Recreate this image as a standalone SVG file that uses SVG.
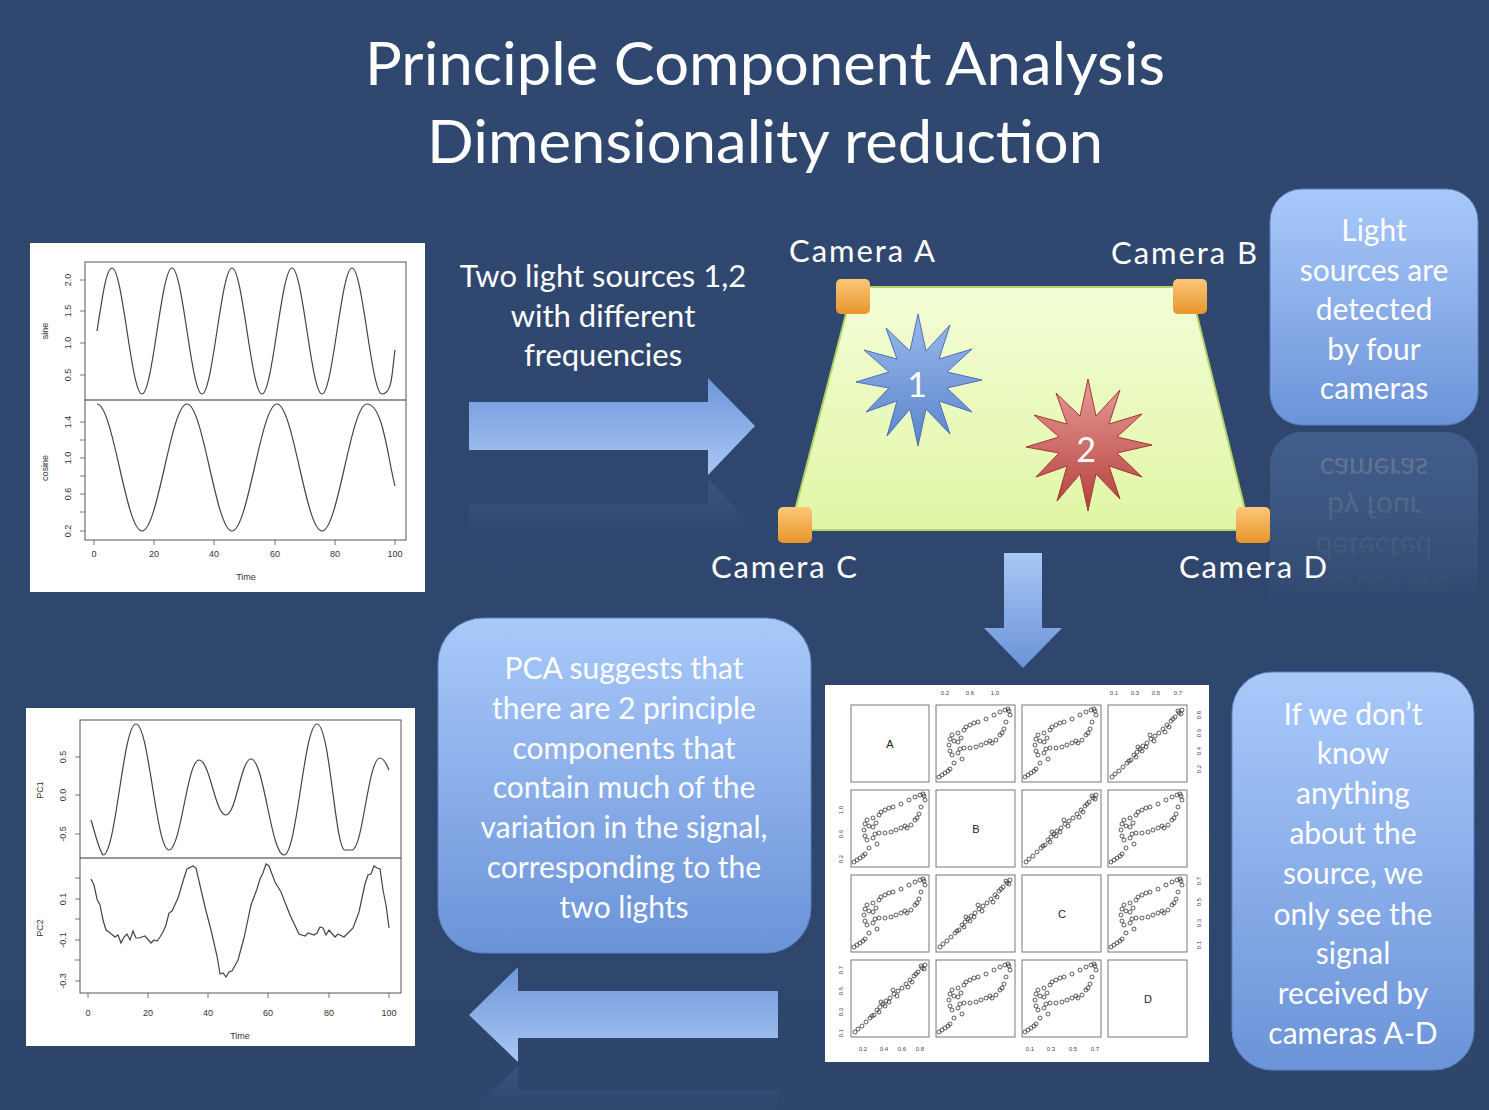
<svg xmlns="http://www.w3.org/2000/svg" xmlns:xlink="http://www.w3.org/1999/xlink" width="1489" height="1110" viewBox="0 0 1489 1110">
<defs>
<linearGradient id="bg" x1="0" y1="0" x2="0" y2="1"><stop offset="0" stop-color="#30486f"/><stop offset="1" stop-color="#2e466c"/></linearGradient>
<linearGradient id="box" x1="0" y1="0" x2="0" y2="1"><stop offset="0" stop-color="#a9c9fa"/><stop offset="1" stop-color="#6b93d8"/></linearGradient>
<linearGradient id="arrH" x1="0" y1="0" x2="0" y2="1"><stop offset="0" stop-color="#6e96da"/><stop offset="1" stop-color="#a9c7f4"/></linearGradient>
<linearGradient id="arrV" x1="0" y1="0" x2="0" y2="1"><stop offset="0" stop-color="#a9c7f4"/><stop offset="1" stop-color="#6b93d8"/></linearGradient>
<linearGradient id="trap" x1="0" y1="0" x2="0" y2="1"><stop offset="0" stop-color="#f3fdd6"/><stop offset="1" stop-color="#e1f6a6"/></linearGradient>
<linearGradient id="cam" x1="0" y1="0" x2="0" y2="1"><stop offset="0" stop-color="#fcc678"/><stop offset="1" stop-color="#e8952c"/></linearGradient>
<linearGradient id="blueS" x1="0" y1="0" x2="0" y2="1"><stop offset="0" stop-color="#9ab9ec"/><stop offset="1" stop-color="#5a84cc"/></linearGradient>
<linearGradient id="redS" x1="0" y1="0" x2="0" y2="1"><stop offset="0" stop-color="#e79a98"/><stop offset="1" stop-color="#b5403c"/></linearGradient>
<linearGradient id="fade" x1="0" y1="0" x2="0" y2="1"><stop offset="0" stop-color="#fff" stop-opacity="0.3"/><stop offset="1" stop-color="#fff" stop-opacity="0"/></linearGradient>
<mask id="m1" maskUnits="userSpaceOnUse" x="1260" y="428" width="230" height="180"><rect x="1260" y="428" width="230" height="180" fill="url(#fade)"/></mask>
<mask id="m2" maskUnits="userSpaceOnUse" x="460" y="476" width="300" height="60"><rect x="460" y="476" width="300" height="60" fill="url(#fade)"/></mask>
<mask id="m3" maskUnits="userSpaceOnUse" x="460" y="1064" width="330" height="46"><rect x="460" y="1064" width="330" height="46" fill="url(#fade)"/></mask>
<symbol id="loop" viewBox="0 0 78 77" width="78" height="77">
<g fill="none" stroke="#333" stroke-width="0.8">
<circle cx="3" cy="72" r="2"/><circle cx="6" cy="70" r="2"/><circle cx="9" cy="68" r="2"/><circle cx="14" cy="64" r="2"/><circle cx="18" cy="58" r="2"/><circle cx="16" cy="50" r="2"/><circle cx="14" cy="46" r="2"/><circle cx="13" cy="40" r="2"/><circle cx="14" cy="34" r="2"/><circle cx="16" cy="30" r="2"/><circle cx="18" cy="36" r="2"/><circle cx="22" cy="37" r="2"/><circle cx="25" cy="33" r="2"/><circle cx="22" cy="28" r="2"/><circle cx="28" cy="25" r="2"/><circle cx="34" cy="20" r="2"/><circle cx="42" cy="17" r="2"/><circle cx="50" cy="14" r="2"/><circle cx="58" cy="10" r="2"/><circle cx="64" cy="7" r="2"/><circle cx="69" cy="5" r="2"/><circle cx="73" cy="6" r="2"/><circle cx="74" cy="10" r="2"/><circle cx="70" cy="17" r="2"/><circle cx="68" cy="24" r="2"/><circle cx="64" cy="30" r="2"/><circle cx="60" cy="35" r="2"/><circle cx="56" cy="38" r="2"/><circle cx="50" cy="38" r="2"/><circle cx="45" cy="40" r="2"/><circle cx="40" cy="42" r="2"/><circle cx="34" cy="43" r="2"/><circle cx="28" cy="43" r="2"/><circle cx="24" cy="44" r="2"/><circle cx="22" cy="48" r="2"/><circle cx="26" cy="54" r="2"/><circle cx="12" cy="66" r="2"/><circle cx="72" cy="4" r="2"/><circle cx="66" cy="28" r="2"/><circle cx="30" cy="22" r="2"/><circle cx="54" cy="36" r="2"/><circle cx="38" cy="18" r="2"/>
</g></symbol>
<symbol id="lin" viewBox="0 0 78 77" width="78" height="77">
<g fill="none" stroke="#333" stroke-width="0.8">
<circle cx="4" cy="72" r="2"/><circle cx="7" cy="69" r="2"/><circle cx="11" cy="66" r="2"/><circle cx="15" cy="62" r="2"/><circle cx="19" cy="58" r="2"/><circle cx="23" cy="55" r="2"/><circle cx="26" cy="50" r="2"/><circle cx="29" cy="47" r="2"/><circle cx="32" cy="44" r="2"/><circle cx="35" cy="41" r="2"/><circle cx="39" cy="38" r="2"/><circle cx="43" cy="34" r="2"/><circle cx="47" cy="31" r="2"/><circle cx="51" cy="28" r="2"/><circle cx="55" cy="24" r="2"/><circle cx="59" cy="20" r="2"/><circle cx="63" cy="16" r="2"/><circle cx="67" cy="12" r="2"/><circle cx="71" cy="8" r="2"/><circle cx="74" cy="5" r="2"/><circle cx="70" cy="6" r="2"/><circle cx="30" cy="42" r="2"/><circle cx="34" cy="46" r="2"/><circle cx="38" cy="42" r="2"/><circle cx="46" cy="36" r="2"/><circle cx="57" cy="27" r="2"/><circle cx="65" cy="14" r="2"/><circle cx="28" cy="52" r="2"/><circle cx="21" cy="56" r="2"/><circle cx="42" cy="30" r="2"/><circle cx="73" cy="9" r="2"/><circle cx="61" cy="22" r="2"/>
</g></symbol>
</defs>
<style>
.t{font-family:Lato,"Open Sans",sans-serif;fill:#fff;text-anchor:middle}
.tt{font-size:60px}
.lbl{font-size:31px}
.bx{font-size:30px}
.ax{font-family:"Liberation Sans",Arial,sans-serif;font-size:9px;fill:#333;text-anchor:middle}
.sm{font-family:"Liberation Sans",Arial,sans-serif;font-size:6px;fill:#444;text-anchor:middle}
.frame{fill:none;stroke:#555;stroke-width:1}
.curve{fill:none;stroke:#444;stroke-width:1.2}
.panel{fill:none;stroke:#777;stroke-width:1}
.tick{stroke:#555;stroke-width:0.8}
</style>
<rect width="1489" height="1110" fill="url(#bg)"/>

<g id="title">
<text class="t tt" x="765" y="85" textLength="800" lengthAdjust="spacingAndGlyphs">Principle Component Analysis</text>
<text class="t tt" x="765" y="163" textLength="676" lengthAdjust="spacingAndGlyphs">Dimensionality reduction</text>
</g>

<g id="plot-sine">
<rect x="30" y="243" width="395" height="349" fill="#fff"/>
<rect x="85" y="262" width="321" height="278" class="frame"/>
<line x1="85" y1="400" x2="406" y2="400" stroke="#333" stroke-width="1.2"/>
<path class="curve" d="M97,331 C102,300 106,268 112,268 C122.8,268 131.2,394 142,394 S161.2,268 172,268 S191.2,394 202,394 S221.2,268 232,268 S251.2,394 262,394 S281.2,268 292,268 S311.2,394 322,394 S341.2,268 352,268 S371.2,394 382,394 S392,370 395,350"/>
<path class="curve" d="M97,404 C113.2,404 125.8,531 142,531 S170.8,404 187,404 S215.8,531 232,531 S260.8,404 277,404 S305.8,531 322,531 S350.8,404 367,404 S388,460 395,486"/>
<g class="tick"><line x1="80" y1="280" x2="85" y2="280"/><line x1="80" y1="311" x2="85" y2="311"/><line x1="80" y1="343" x2="85" y2="343"/><line x1="80" y1="375" x2="85" y2="375"/><line x1="80" y1="422" x2="85" y2="422"/><line x1="80" y1="440" x2="85" y2="440"/><line x1="80" y1="458" x2="85" y2="458"/><line x1="80" y1="476" x2="85" y2="476"/><line x1="80" y1="494" x2="85" y2="494"/><line x1="80" y1="512" x2="85" y2="512"/><line x1="80" y1="531" x2="85" y2="531"/>
<line x1="94" y1="540" x2="94" y2="545"/><line x1="154" y1="540" x2="154" y2="545"/><line x1="214" y1="540" x2="214" y2="545"/><line x1="275" y1="540" x2="275" y2="545"/><line x1="335" y1="540" x2="335" y2="545"/><line x1="395" y1="540" x2="395" y2="545"/></g>
<g class="ax">
<text transform="translate(71,280) rotate(-90)">2.0</text><text transform="translate(71,311) rotate(-90)">1.5</text><text transform="translate(71,343) rotate(-90)">1.0</text><text transform="translate(71,375) rotate(-90)">0.5</text>
<text transform="translate(71,422) rotate(-90)">1.4</text><text transform="translate(71,458) rotate(-90)">1.0</text><text transform="translate(71,494) rotate(-90)">0.6</text><text transform="translate(71,531) rotate(-90)">0.2</text>
<text transform="translate(48,331) rotate(-90)">sine</text><text transform="translate(48,468) rotate(-90)">cosine</text>
<text x="94" y="557">0</text><text x="154" y="557">20</text><text x="214" y="557">40</text><text x="275" y="557">60</text><text x="335" y="557">80</text><text x="395" y="557">100</text>
<text x="246" y="580">Time</text></g>
</g>

<g id="label-two-lights">
<text class="t lbl" x="603" y="287">Two light sources 1,2</text>
<text class="t lbl" x="603" y="327">with different</text>
<text class="t lbl" x="603" y="366">frequencies</text>
</g>

<g id="connectors">
<polygon points="469,402 708,402 708,378 755,426 708,475 708,450 469,450" fill="url(#arrH)"/>
<polygon points="469,552 708,552 708,576 755,528 708,479 708,504 469,504" fill="#6e96da" mask="url(#m2)" opacity="0.6"/>
<polygon points="1004,553 1042,553 1042,628 1062,628 1023,668 984,628 1004,628" fill="url(#arrV)"/>
<polygon points="778,991 518,991 518,967 469,1015 518,1062 518,1038 778,1038" fill="url(#arrH)"/>
<polygon points="778,1137 518,1137 518,1161 469,1113 518,1066 518,1090 778,1090" fill="#6e96da" mask="url(#m3)" opacity="0.6"/>
</g>

<g id="scene">
<polygon points="853,287 1190,287 1250,530 790,530" fill="url(#trap)" stroke="#b5d46a" stroke-width="2"/>
<polygon points="982,380 947,372 972,349 939,359 950,325 926,351 918,314 910,351 886,328 897,359 864,350 889,372 856,382 889,388 866,412 897,401 887,436 910,409 918,446 926,409 950,434 939,401 972,412 947,388" fill="url(#blueS)" stroke="#4a72b8" stroke-width="1"/>
<polygon points="982,380 947,372 972,349 939,359 950,325 926,351 918,314 910,351 886,328 897,359 864,350 889,372 856,382 889,388 866,412 897,401 887,436 910,409 918,446 926,409 950,434 939,401 972,412 947,388" transform="translate(170,65)" fill="url(#redS)" stroke="#a03a36" stroke-width="1"/>
<text class="t" x="917" y="397" font-size="34">1</text>
<text class="t" x="1086" y="462" font-size="34">2</text>
</g>
<g id="camera-a"><rect x="836" y="279" width="34" height="35" rx="5" fill="url(#cam)"/><text class="t lbl" x="862" y="262" textLength="146">Camera A</text></g>
<g id="camera-b"><rect x="1173" y="279" width="34" height="35" rx="5" fill="url(#cam)"/><text class="t lbl" x="1184" y="264" textLength="146">Camera B</text></g>
<g id="camera-c"><rect x="778" y="507" width="34" height="36" rx="5" fill="url(#cam)"/><text class="t lbl" x="784" y="578" textLength="146">Camera C</text></g>
<g id="camera-d"><rect x="1236" y="507" width="34" height="36" rx="5" fill="url(#cam)"/><text class="t lbl" x="1253" y="578" textLength="148">Camera D</text></g>

<g id="box-light">
<rect x="1270" y="189" width="208" height="236" rx="32" fill="url(#box)" stroke="#5a80c4" stroke-width="1"/>
<text class="t bx" x="1374" y="241">Light</text>
<text class="t bx" x="1374" y="281">sources are</text>
<text class="t bx" x="1374" y="320">detected</text>
<text class="t bx" x="1374" y="360">by four</text>
<text class="t bx" x="1374" y="399">cameras</text>
</g>
<g id="box-light-reflection" mask="url(#m1)">
<g transform="translate(0,857) scale(1,-1)">
<rect x="1270" y="189" width="208" height="236" rx="32" fill="url(#box)"/>
<text class="t bx" x="1374" y="281" fill="#c8d8f4">sources are</text>
<text class="t bx" x="1374" y="320" fill="#c8d8f4">detected</text>
<text class="t bx" x="1374" y="360" fill="#c8d8f4">by four</text>
<text class="t bx" x="1374" y="399" fill="#c8d8f4">cameras</text>
</g></g>

<g id="scatter-matrix">
<rect x="825" y="685" width="384" height="377" fill="#fff"/>
<g class="panel">
<rect x="851" y="705" width="78" height="77"/><rect x="936" y="705" width="79" height="77"/><rect x="1022" y="705" width="79" height="77"/><rect x="1108" y="705" width="79" height="77"/>
<rect x="851" y="790" width="78" height="77"/><rect x="936" y="790" width="79" height="77"/><rect x="1022" y="790" width="79" height="77"/><rect x="1108" y="790" width="79" height="77"/>
<rect x="851" y="875" width="78" height="77"/><rect x="936" y="875" width="79" height="77"/><rect x="1022" y="875" width="79" height="77"/><rect x="1108" y="875" width="79" height="77"/>
<rect x="851" y="960" width="78" height="77"/><rect x="936" y="960" width="79" height="77"/><rect x="1022" y="960" width="79" height="77"/><rect x="1108" y="960" width="79" height="77"/>
</g>
<use xlink:href="#loop" href="#loop" x="936" y="705"/><use xlink:href="#loop" href="#loop" x="1022" y="705"/><use xlink:href="#lin" href="#lin" x="1108" y="705"/>
<use xlink:href="#loop" href="#loop" x="851" y="790"/><use xlink:href="#lin" href="#lin" x="1022" y="790"/><use xlink:href="#loop" href="#loop" x="1108" y="790"/>
<use xlink:href="#loop" href="#loop" x="851" y="875"/><use xlink:href="#lin" href="#lin" x="936" y="875"/><use xlink:href="#loop" href="#loop" x="1108" y="875"/>
<use xlink:href="#lin" href="#lin" x="851" y="960"/><use xlink:href="#loop" href="#loop" x="936" y="960"/><use xlink:href="#loop" href="#loop" x="1022" y="960"/>
<g font-family="Liberation Sans,Arial,sans-serif" font-size="11" fill="#222" text-anchor="middle">
<text x="890" y="748">A</text><text x="976" y="833">B</text><text x="1062" y="918">C</text><text x="1148" y="1003">D</text></g>
<g class="sm">
<text x="945" y="695">0.2</text><text x="970" y="695">0.6</text><text x="995" y="695">1.0</text>
<text x="1114" y="695">0.1</text><text x="1135" y="695">0.3</text><text x="1156" y="695">0.5</text><text x="1178" y="695">0.7</text>
<text x="863" y="1051">0.2</text><text x="884" y="1051">0.4</text><text x="902" y="1051">0.6</text><text x="920" y="1051">0.8</text>
<text x="1030" y="1051">0.1</text><text x="1051" y="1051">0.3</text><text x="1073" y="1051">0.5</text><text x="1095" y="1051">0.7</text>
<text transform="translate(1201,769) rotate(-90)">0.2</text><text transform="translate(1201,751) rotate(-90)">0.4</text><text transform="translate(1201,733) rotate(-90)">0.6</text><text transform="translate(1201,715) rotate(-90)">0.8</text>
<text transform="translate(1201,945) rotate(-90)">0.1</text><text transform="translate(1201,923) rotate(-90)">0.3</text><text transform="translate(1201,902) rotate(-90)">0.5</text><text transform="translate(1201,881) rotate(-90)">0.7</text>
<text transform="translate(843,859) rotate(-90)">0.2</text><text transform="translate(843,834) rotate(-90)">0.6</text><text transform="translate(843,810) rotate(-90)">1.0</text>
<text transform="translate(843,1033) rotate(-90)">0.1</text><text transform="translate(843,1012) rotate(-90)">0.3</text><text transform="translate(843,991) rotate(-90)">0.5</text><text transform="translate(843,970) rotate(-90)">0.7</text>
</g>
</g>

<g id="box-pca">
<rect x="438" y="618" width="373" height="335" rx="45" fill="url(#box)" stroke="#5a80c4" stroke-width="1"/>
<text class="t bx" x="624" y="679">PCA suggests that</text>
<text class="t bx" x="624" y="719">there are 2 principle</text>
<text class="t bx" x="624" y="759">components that</text>
<text class="t bx" x="624" y="798">contain much of the</text>
<text class="t bx" x="624" y="838">variation in the signal,</text>
<text class="t bx" x="624" y="878">corresponding to the</text>
<text class="t bx" x="624" y="918">two lights</text>
</g>

<g id="plot-pc">
<rect x="26" y="708" width="389" height="338" fill="#fff"/>
<rect x="80" y="720" width="321" height="273" class="frame"/>
<line x1="80" y1="858" x2="401" y2="858" stroke="#333" stroke-width="1.2"/>
<path class="curve" d="M91,820 C95,833 99,850 103,855 C116,855 123,724 136,724 C149,724 156,850 169,850 C181,850 187,760 199,760 C210,760 215,815 226,815 C236,815 241,759 251,759 C264,759 271,855 284,855 C297,855 304,724 317,724 C330,724 335,850 345,850 L352,850 C363,850 368,758 380,758 C384,758 387,765 389,770"/>
<polyline class="curve" points="91,879 94,885 97,899 100,905 103,920 106,930 109,932 115,937 118,935 121,943 124,937 127,934 130,940 133,931 136,938 139,938 145,936 151,943 154,940 157,941 160,937 163,932 166,925 169,913 172,911 178,898 184,878 187,869 193,866 196,868 202,894 205,907 211,930 217,956 220,974 223,973 226,977 229,972 232,971 238,960 244,938 251,905 257,889 260,879 263,873 266,864 269,866 272,874 275,882 281,892 290,915 299,934 305,936 308,933 314,935 317,933 320,927 323,928 326,935 329,930 335,937 338,934 344,937 347,934 353,928 359,912 365,884 368,875 371,874 374,866 377,868 380,869 383,890 386,905 389,928"/>
<g class="tick"><line x1="75" y1="757" x2="80" y2="757"/><line x1="75" y1="795" x2="80" y2="795"/><line x1="75" y1="834" x2="80" y2="834"/><line x1="75" y1="899" x2="80" y2="899"/><line x1="75" y1="919" x2="80" y2="919"/><line x1="75" y1="940" x2="80" y2="940"/><line x1="75" y1="960" x2="80" y2="960"/><line x1="75" y1="981" x2="80" y2="981"/><line x1="75" y1="878" x2="80" y2="878"/>
<line x1="88" y1="993" x2="88" y2="998"/><line x1="148" y1="993" x2="148" y2="998"/><line x1="208" y1="993" x2="208" y2="998"/><line x1="268" y1="993" x2="268" y2="998"/><line x1="329" y1="993" x2="329" y2="998"/><line x1="389" y1="993" x2="389" y2="998"/></g>
<g class="ax">
<text transform="translate(66,757) rotate(-90)">0.5</text><text transform="translate(66,795) rotate(-90)">0.0</text><text transform="translate(66,834) rotate(-90)">-0.5</text>
<text transform="translate(66,899) rotate(-90)">0.1</text><text transform="translate(66,940) rotate(-90)">-0.1</text><text transform="translate(66,981) rotate(-90)">-0.3</text>
<text transform="translate(43,790) rotate(-90)">PC1</text><text transform="translate(43,928) rotate(-90)">PC2</text>
<text x="88" y="1016">0</text><text x="148" y="1016">20</text><text x="208" y="1016">40</text><text x="268" y="1016">60</text><text x="329" y="1016">80</text><text x="389" y="1016">100</text>
<text x="240" y="1039">Time</text></g>
</g>

<g id="box-unknown">
<rect x="1232" y="672" width="242" height="398" rx="40" fill="url(#box)" stroke="#5a80c4" stroke-width="1"/>
<text class="t bx" x="1353" y="725">If we don’t</text>
<text class="t bx" x="1353" y="764">know</text>
<text class="t bx" x="1353" y="804">anything</text>
<text class="t bx" x="1353" y="844">about the</text>
<text class="t bx" x="1353" y="884">source, we</text>
<text class="t bx" x="1353" y="925">only see the</text>
<text class="t bx" x="1353" y="964">signal</text>
<text class="t bx" x="1353" y="1004">received by</text>
<text class="t bx" x="1353" y="1044">cameras A-D</text>
</g>
</svg>
